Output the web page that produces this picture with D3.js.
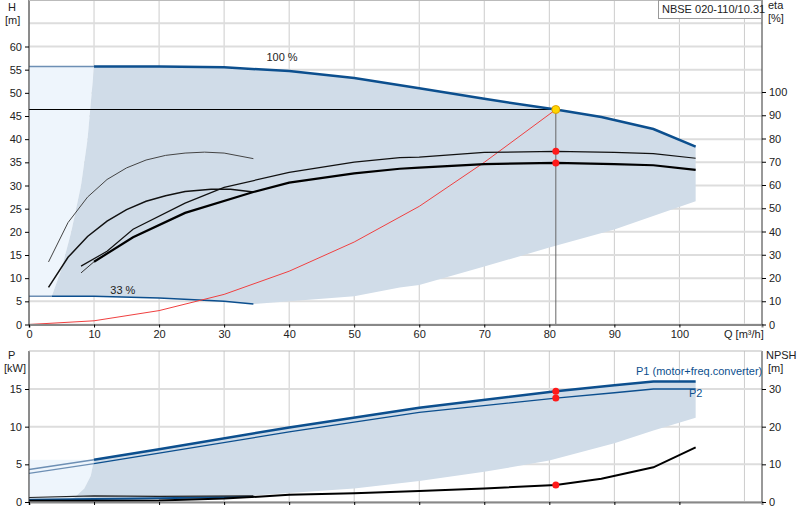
<!DOCTYPE html>
<html><head><meta charset="utf-8">
<script src="https://cdnjs.cloudflare.com/ajax/libs/d3/7.8.5/d3.min.js"></script>
<style>body{margin:0;background:#fff}text{font-family:"Liberation Sans",Arial,sans-serif;font-size:11px;fill:#222}</style>
</head><body><svg id="c" width="800" height="520"></svg>
<script>
// Q [m3/h], H [m], eta [%], P [kW], NPSH [m]
var qTicks = [0,10,20,30,40,50,60,70,80,90,100];
var hTicks = [0,5,10,15,20,25,30,35,40,45,50,55,60];
var etaTicks = [0,10,20,30,40,50,60,70,80,90,100];
var pTicks = [0,5,10,15];
var npshTicks = [0,10,20,30];

var h100 = [[0,55.7],[10,55.7],[20,55.7],[30,55.5],[40,54.7],[50,53.2],[60,51],[70,48.7],[81,46.4],[88,44.8],[96,42.2],[102.5,38.4]];
var h33 = [[0,6.1],[3.5,6.1],[10,6.1],[20,5.7],[30,5.0],[34.5,4.4]];
var hLower = [[34.5,4.4],[50,6.1],[57,8],[60,8.5],[70,12.5],[80,16.6],[90,20.5],[102.5,26.6]];
var hLeftEdge = [[3.5,6.1],[5,12],[6.5,20],[8,30],[9,40],[10,55.7]];
var sysCurve = [[0,0],[10,0.8],[20,3],[30,6.5],[40,11.5],[50,17.8],[60,25.5],[70,35],[81,46.4]];
var partA = [[3,13.5],[6,22],[9,27.5],[12,31.3],[15,33.8],[18,35.5],[21,36.5],[24,37],[27,37.2],[30,37],[34.5,35.8]];
var partB = [[3,8],[6,14.5],[9,19],[12,22.3],[15,24.8],[18,26.6],[21,27.8],[24,28.7],[28,29.2],[31,29.2],[34.5,28.6]];
var etaTot = [[10,27],[16,37.5],[24,48],[34.5,57],[40,61],[50,65],[57,67],[60,67.5],[70,69],[81,69.5],[90,69],[96,68.5],[102.5,66.5]];
var etaTotStart = [[8,22.2],[10,27]];
var etaPump = [[8,25.1],[12,31.5],[16,41],[24,52.2],[30,59],[40,65.4],[50,69.8],[57,71.8],[60,72],[70,74],[81,74.5],[90,74],[96,73.5],[102.5,71.5]];
var dutyQ = 81, dutyH = 46.4, dutyEta = [74.5,69.5];

var p1 = [[0,4.3],[10,5.6],[20,7.0],[40,9.9],[60,12.5],[81,14.7],[90,15.5],[96,16],[102.5,16]];
var p2 = [[0,3.8],[10,5.1],[20,6.5],[40,9.3],[60,11.9],[81,13.8],[90,14.5],[96,15],[102.5,15]];
var pLower = [[102.5,11.2],[96,9.5],[90,7.8],[80,5.5],[70,4.0],[60,2.8],[50,1.8],[40,1.2],[30,0.6],[20,0.4],[10,0.1],[5,0]];
var pLeftEdge = [[5,0],[7,0.6],[8.5,1.8],[9.5,3.5],[10,5.6]];
var p33a = [[0,0.3],[10,0.4],[20,0.5],[34.5,0.7]];
var p33b = [[0,0.6],[10,0.8],[20,0.75],[34.5,0.8]];
var npsh = [[0,0.3],[10,0.3],[20,0.4],[30,0.9],[40,1.9],[50,2.3],[60,2.9],[70,3.6],[81,4.5],[88,6.2],[96,9.2],[102.5,14.5]];
var dutyP = [14.7,13.8], dutyNpsh = 4.5;

var svg = d3.select("#c");
var L = 29, R = 762;
var x = d3.scaleLinear().domain([0,112.7]).range([L,R]);
var yH = d3.scaleLinear().domain([0,60]).range([324.5,46.5]);
var yE = d3.scaleLinear().domain([0,100]).range([324.5,92]);
var yP = d3.scaleLinear().domain([0,15]).range([502,389]);
var yN = d3.scaleLinear().domain([0,30]).range([502,389]);
var shade = "#d0dce8", light = "#eef5fc", blue = "#0c4f8e";

function line(ys){ return d3.line().x(function(d){return x(d[0]);}).y(function(d){return ys(d[1]);}); }
function path(data, ys, col, w){ svg.append("path").attr("d", line(ys)(data)).attr("fill","none").attr("stroke",col).attr("stroke-width",w); }
function area(data, ys, col){ svg.append("path").attr("d", line(ys)(data)+"Z").attr("fill",col).attr("stroke","none"); }

function grid(y0, y1, ys, ticks){
  svg.append("g").selectAll("line").data(qTicks.concat([110])).join("line")
    .attr("x1",function(d){return x(d);}).attr("x2",function(d){return x(d);})
    .attr("y1",y0).attr("y2",y1).attr("stroke","#ccc").attr("stroke-width",1);
  svg.append("g").selectAll("line").data(ticks).join("line")
    .attr("x1",L).attr("x2",R).attr("y1",function(d){return ys(d);}).attr("y2",function(d){return ys(d);})
    .attr("stroke","#ddd").attr("stroke-width",2);
}

// top chart
grid(0, 324.5, yH, hTicks.concat([65]));
area([[0,6.1]].concat(hLeftEdge,[[0,55.7]]), yH, light);
area(hLeftEdge.concat(h100.filter(function(d){return d[0]>10;}), hLower.slice().reverse(), h33.slice(1).reverse()), yH, shade);
svg.append("line").attr("x1",x(0)).attr("x2",x(dutyQ)).attr("y1",yH(dutyH)).attr("y2",yH(dutyH)).attr("stroke","#000");
svg.append("line").attr("x1",x(dutyQ)).attr("x2",x(dutyQ)).attr("y1",yH(dutyH)).attr("y2",yH(0)).attr("stroke","#666");
path(h100.slice(0,2), yH, "#6d8fb4", 1.5);
path(h100.slice(1), yH, blue, 2.5);
path(h33.slice(0,2), yH, "#6d8fb4", 1.5);
path(h33.slice(1), yH, blue, 1.5);
path(sysCurve, yH, "#f04040", 1);
path(partA, yH, "#444", 1);
path(partB, yH, "#111", 1.5);
path(etaPump, yE, "#111", 1.2);
path(etaTotStart, yE, "#333", 1);
path(etaTot, yE, "#000", 2.2);
svg.append("circle").attr("cx",x(dutyQ)).attr("cy",yH(dutyH)).attr("r",4).attr("fill","#ffd700").attr("stroke","#e0a000");
dutyEta.forEach(function(e){ svg.append("circle").attr("cx",x(dutyQ)).attr("cy",yE(e)).attr("r",3.5).attr("fill","#ff1a1a"); });
svg.append("text").attr("x",x(36.5)).attr("y",yH(56.8)).text("100 %");
svg.append("text").attr("x",x(12.5)).attr("y",yH(4.9)+-8).text("33 %");

svg.append("g").attr("transform","translate(0,324.5)").call(d3.axisBottom(x).tickValues(qTicks).tickSize(3).tickFormat(d3.format("d")))
  .call(function(g){g.select(".domain").attr("stroke","#888").attr("stroke-width",2);});
svg.append("g").attr("transform","translate("+L+",0)").call(d3.axisLeft(yH).tickValues(hTicks).tickSize(4))
  .call(function(g){g.select(".domain").attr("d","M0,0V324.5").attr("stroke","#333");});
svg.append("g").attr("transform","translate("+R+",0)").call(d3.axisRight(yE).tickValues(etaTicks).tickSize(4))
  .call(function(g){g.select(".domain").attr("d","M0,0V324.5").attr("stroke","#333");});
svg.append("line").attr("x1",L).attr("x2",R).attr("y1",0.5).attr("y2",0.5).attr("stroke","#bbb");
svg.append("text").attr("x",8).attr("y",11).text("H");
svg.append("text").attr("x",5).attr("y",24).text("[m]");
svg.append("text").attr("x",768).attr("y",9).text("eta");
svg.append("text").attr("x",768).attr("y",22).text("[%]");
svg.append("text").attr("x",724).attr("y",338).text("Q [m\u00b3/h]");
svg.append("rect").attr("x",658.5).attr("y",0.5).attr("width",103).attr("height",18).attr("fill","#fff").attr("stroke","#999");
svg.append("text").attr("x",662).attr("y",13).text("NBSE 020-110/10.31");

// bottom chart
grid(351, 502, yP, pTicks);
area([[0,0]].concat(pLeftEdge,[[0,5.6]]), yP, light);
area(pLeftEdge.concat(p1.slice(2), pLower), yP, shade);
path(p1.slice(0,2), yP, "#6d8fb4", 1.5);
path(p1.slice(1), yP, blue, 2.5);
path(p2.slice(0,2), yP, "#6d8fb4", 1.2);
path(p2.slice(1), yP, blue, 1.3);
path(p33a, yP, blue, 2);
path(p33b, yP, "#222", 1.2);
path(npsh, yN, "#000", 2);
dutyP.forEach(function(p){ svg.append("circle").attr("cx",x(dutyQ)).attr("cy",yP(p)).attr("r",3.5).attr("fill","#ff1a1a"); });
svg.append("circle").attr("cx",x(dutyQ)).attr("cy",yN(dutyNpsh)).attr("r",3.5).attr("fill","#ff1a1a");
svg.append("g").attr("transform","translate(0,502)").call(d3.axisBottom(x).tickValues(qTicks).tickSize(3).tickFormat(""))
  .call(function(g){g.select(".domain").attr("stroke","#888").attr("stroke-width",2);});
svg.append("g").attr("transform","translate("+L+",0)").call(d3.axisLeft(yP).tickValues(pTicks).tickSize(4))
  .call(function(g){g.select(".domain").attr("d","M0,351V502").attr("stroke","#333");});
svg.append("g").attr("transform","translate("+R+",0)").call(d3.axisRight(yN).tickValues(npshTicks).tickSize(4))
  .call(function(g){g.select(".domain").attr("d","M0,351V502").attr("stroke","#333");});
svg.append("line").attr("x1",L).attr("x2",R).attr("y1",351).attr("y2",351).attr("stroke","#bbb");
svg.append("text").attr("x",8).attr("y",359).text("P");
svg.append("text").attr("x",4).attr("y",372).text("[kW]");
svg.append("text").attr("x",766).attr("y",359).text("NPSH");
svg.append("text").attr("x",768).attr("y",372).text("[m]");
svg.append("text").attr("x",636).attr("y",375).style("fill",blue).text("P1 (motor+freq.converter)");
svg.append("text").attr("x",689).attr("y",397).style("fill",blue).text("P2");
svg.selectAll(".tick text").style("font-size","11px").attr("fill","#222");
</script></body></html>
